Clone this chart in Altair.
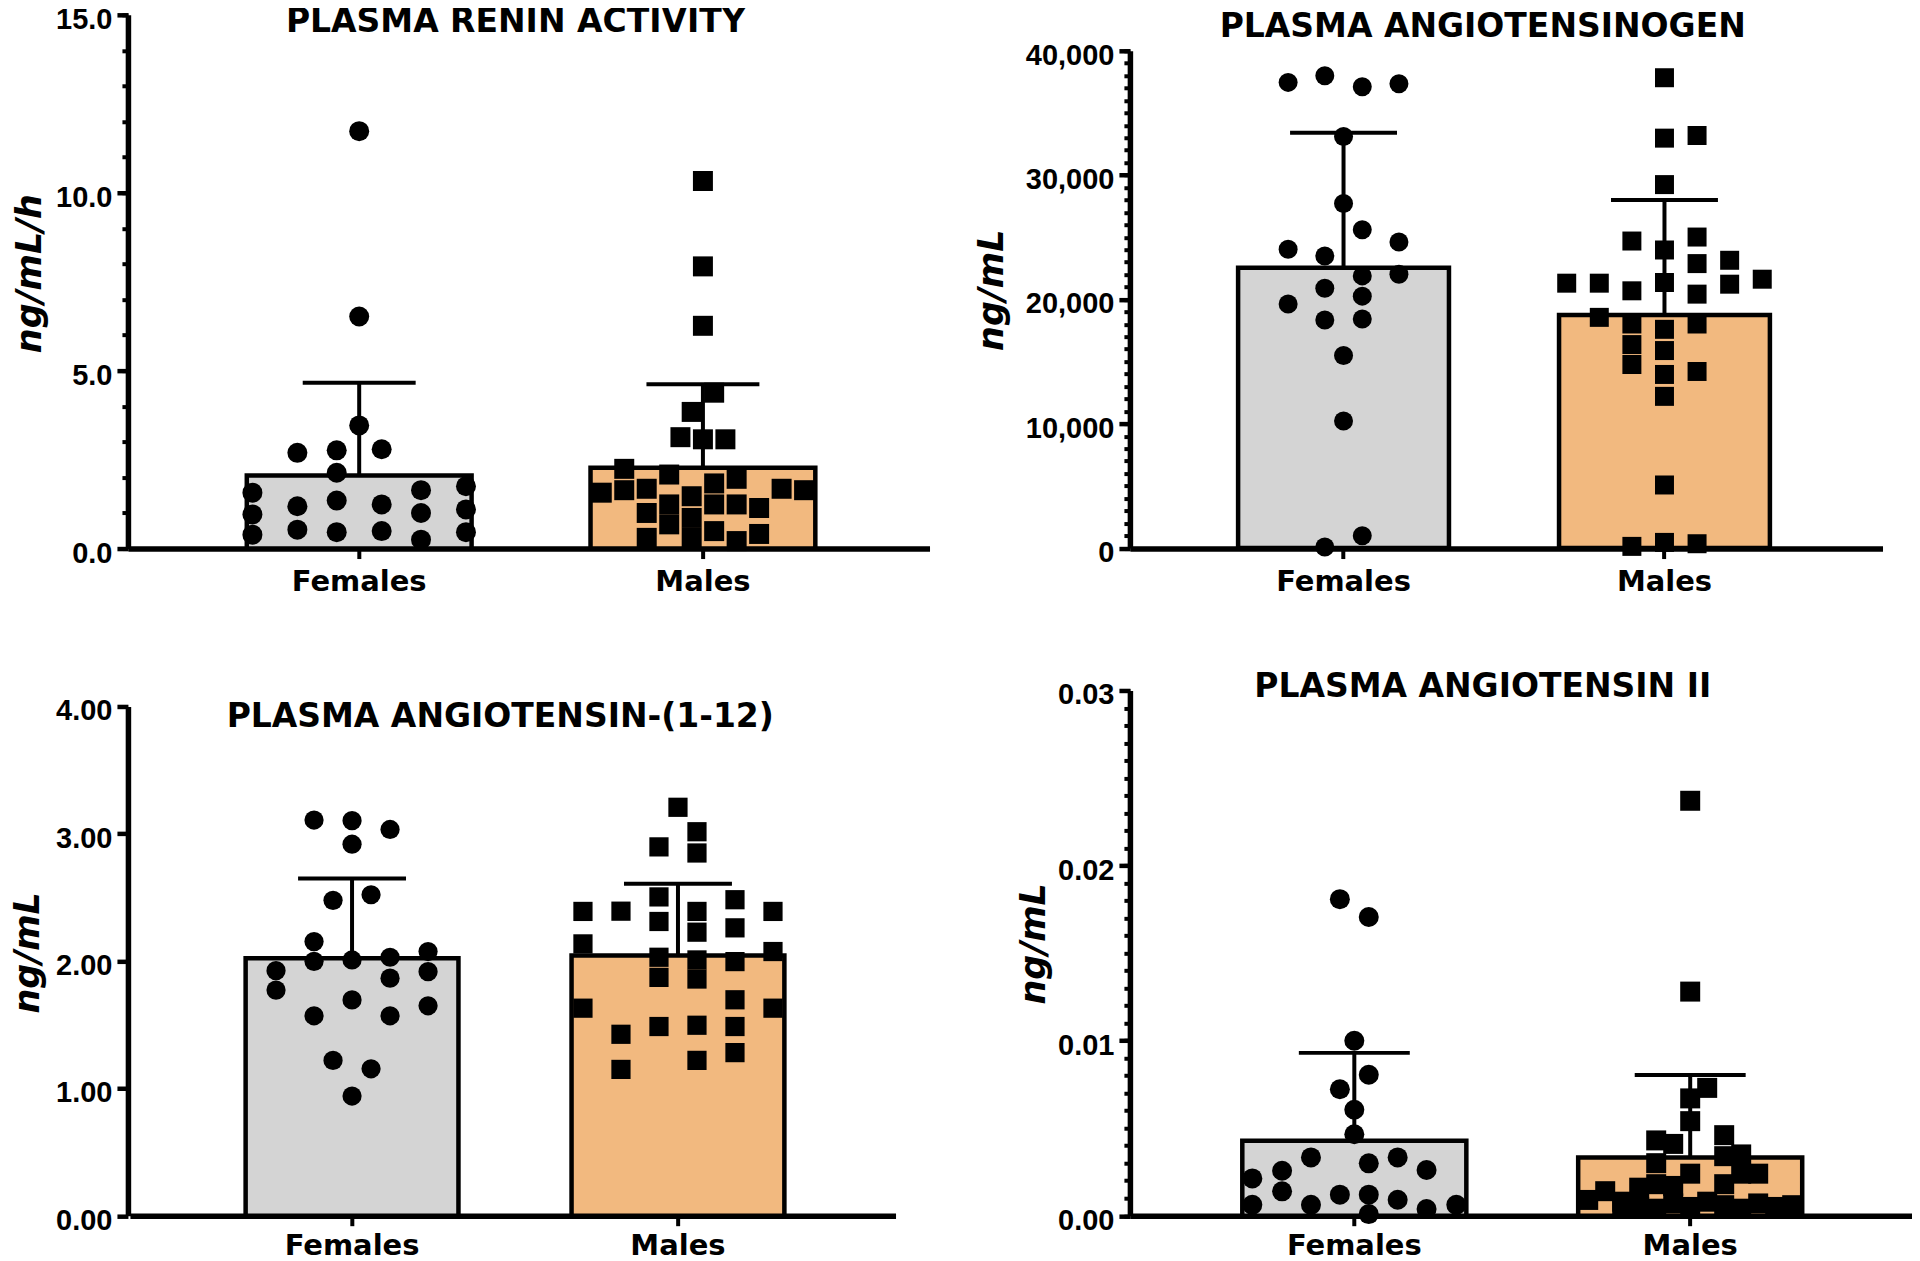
import altair as alt
import pandas as pd

GROUPS = ["Females", "Males"]
BAR_FILL = ["#d4d4d4", "#f2b97f"]
POINT_SHAPE = ["circle", "square"]

# ---------------- Panel 1: plasma renin activity (ng/mL/h) ----------------
pra_female = [11.73, 6.52, 3.46, 2.69, 2.76, 2.79, 2.13, 1.57, 0.96, 0.39, 1.19,
              0.53, 1.35, 0.46, 1.24, 0.49, 1.64, 1.00, 0.25, 1.75, 1.10, 0.46]
pra_female_slot = [0, 0, 0, -5.5, -2, 2, -2, -9.5, -9.5, -9.5, -5.5,
                   -5.5, -2, -2, 2, 2, 5.5, 5.5, 5.5, 9.5, 9.5, 9.5]
pra_male = [10.33, 7.93, 6.26, 4.38, 3.84, 3.13, 3.07, 3.07, 2.24, 2.08, 1.57,
            1.64, 1.68, 1.47, 1.83, 1.96, 1.68, 1.64, 1.00, 1.24, 0.68, 0.86,
            1.24, 1.24, 1.14, 0.30, 0.30, 0.49, 0.21, 0.41]
pra_male_slot = [0, 0, 0, 1, -1, -2, 0, 2, -7, -3, -9,
                 -7, -5, -1, 1, 3, 7, 9, -5, -3, -3, -1,
                 1, 3, 5, -5, -1, 1, 3, 5]
pra_mean = [2.05, 2.27]
pra_sd = [2.61, 2.35]
pra_major = [0, 5, 10, 15]

# ---------------- Panel 2: plasma angiotensinogen (ng/mL) ----------------
aog_female = [37460, 37994, 37113, 37353, 33108, 27715, 25605, 24030, 24617,
              23496, 21894, 22028, 20906, 19625, 20265, 18343, 18423, 15486,
              10226, 988, 80]
aog_female_slot = [-3.4, -1.15, 1.15, 3.4, 0, 0, 1.15, -3.4, 3.4,
                   -1.15, 1.15, 3.4, -1.15, -3.4, 1.15, -1.15, 1.15, 0,
                   0, 1.15, -1.15]
aog_male = [37834, 32975, 33188, 29237, 24698, 25018, 23977, 22882, 23149,
            21307, 21307, 20693, 21360, 20426, 21226, 21627, 18557, 18023,
            17595, 18023, 16367, 15887, 14765, 14204, 13964, 12202, 5073,
            134, 454, 347]
aog_male_slot = [0, 0, 2, 0, -2, 2, 0, 2, 4,
                 -6, -4, -2, 0, 2, 4, 6, -4, -2,
                 0, 2, -2, 0, -2, 2, 0, 0, 0,
                 -2, 0, 2]
aog_mean = [22550, 18750]
aog_sd = [10850, 9250]
aog_major = [0, 10000, 20000, 30000, 40000]

# ---------------- Panel 3: plasma angiotensin-(1-12) (ng/mL) ----------------
a12_female = [3.108, 3.103, 3.034, 2.918, 2.477, 2.521, 2.153, 1.998, 2.009,
              2.030, 2.075, 1.917, 1.925, 1.772, 1.866, 1.695, 1.570, 1.570,
              1.649, 1.220, 1.154, 0.940]
a12_female_slot = [-2, 0, 2, 0, -1, 1, -2, -2, 0,
                   2, 4, 4, -4, -4, 2, 0, -2, 2,
                   4, -1, 1, 0]
a12_male = [3.208, 3.016, 2.897, 2.849, 2.504, 2.390, 2.482, 2.390, 2.392,
            2.390, 2.311, 2.227, 2.261, 2.135, 2.075, 2.030, 2.009, 1.996,
            1.872, 1.859, 1.696, 1.630, 1.630, 1.425, 1.486, 1.496, 1.486,
            1.281, 1.220, 1.149]
a12_male_slot = [0, 1, -1, 1, -1, 1, 3, -5, -3,
                 5, -1, 1, 3, -5, 5, -1, 1, 3,
                 -1, 1, 3, -5, 5, -3, -1, 1, 3,
                 3, 1, -3]
a12_mean = [2.022, 2.043]
a12_sd = [0.626, 0.565]
a12_major = [0, 1, 2, 3, 4]

# ---------------- Panel 4: plasma angiotensin II (ng/mL) ----------------
ang2_female = [0.01808, 0.01706, 0.00999, 0.00805, 0.00722, 0.00605, 0.00465,
               0.00333, 0.00333, 0.00299, 0.00261, 0.00257, 0.00213, 0.00139,
               0.00120, 0.00120, 0.00091, 0.00062, 0.00062, 0.00038, 0.00062,
               0.00009]
ang2_female_slot = [-0.85, 0.85, 0, 0.85, -0.85, 0, 0,
                    -2.55, 2.55, 0.85, 4.25, -4.25, -6, -4.25,
                    -0.85, 0.85, 2.55, -6, -2.55, 4.25, 6,
                    0.85]
ang2_male = [0.0237, 0.0128, 0.0073, 0.0067, 0.0054, 0.0046, 0.0043, 0.0041,
             0.0035, 0.0034, 0.0030, 0.0024, 0.0024, 0.0024, 0.0018, 0.0017,
             0.0018, 0.0016, 0.0014, 0.0009, 0.0008, 0.0007, 0.0008, 0.0007,
             0.0006, 0.0005, 0.0004, 0.0005, 0.0004, 0.0005, 0.0006, 0.0004]
ang2_male_slot = [0, 0, 1, 0, 0, 2, -2, -1,
                  3, 2, -2, 0, 3, 4, -2, -1,
                  2, -3, -5, -6, -4, -1, 1, 4,
                  6, -3, -2, 0, 3, 5, 2, -4]
ang2_mean = [0.00428, 0.00333]
ang2_sd = [0.00502, 0.00470]
ang2_major = [0, 0.01, 0.02, 0.03]

ROW1_H = 534
ROW2_H = 525.5
COL1_W = 802
COL2_W = 782


def make_panel(title, ytitle, f_vals, f_slots, m_vals, m_slots, means, sds,
               majors, minor, fmt, width, height, xrange, yrange, band, slot_half,
               pt_size, cap_size, title_offset, title_dx, ytitle_x, ytitle_y,
               xlabel_pad):
    pts = pd.DataFrame({
        "group": ["Females"] * len(f_vals) + ["Males"] * len(m_vals),
        "value": f_vals + m_vals,
        "slot": f_slots + m_slots,
    })
    bars = pd.DataFrame({"group": GROUPS, "mean": means, "sd": sds})
    bars["upper"] = bars["mean"] + bars["sd"]
    ymax = majors[-1]

    yscale = alt.Scale(domain=[0, ymax], range=yrange, nice=False, zero=True)
    major_axis = alt.Axis(
        orient="left", values=majors, format=fmt,
        tickSize=11, tickWidth=4.5, tickColor="black",
        domainColor="black", domainWidth=5.5,
        labelFont="Liberation Sans", labelFontSize=29, labelFontWeight="bold",
        labelColor="black", labelPadding=5, labelOffset=4.5,
        labelFlush=False, labelOverlap=False,
        grid=False,
        title=ytitle, titleFont="DejaVu Sans", titleFontSize=35,
        titleFontWeight="bold", titleFontStyle="italic", titleColor="black",
        titleAngle=270, titleBaseline="middle", titleAlign="center",
        titleX=ytitle_x, titleY=ytitle_y,
    )
    if minor:
        n_minor = int(round(ymax / minor))
        minor_values = [round(i * minor, 6) for i in range(n_minor + 1)]
        minor_axis = alt.Axis(
            orient="left", values=minor_values, labels=False, domain=False,
            tickSize=6, tickWidth=4, tickColor="black", grid=False, title=None,
        )
    else:
        minor_axis = None

    pin, pout, align = band
    xenc = alt.X(
        "group:N", sort=GROUPS,
        scale=alt.Scale(domain=GROUPS, range=xrange, paddingInner=pin,
                        paddingOuter=pout, align=align),
        axis=alt.Axis(
            title=None, labelAngle=0, labelFont="DejaVu Sans", labelFontSize=29,
            labelFontWeight="bold", labelColor="black", labelPadding=xlabel_pad,
            tickSize=10, tickWidth=4, tickColor="black",
            domainColor="black", domainWidth=5.5, bandPosition=0.5, grid=False,
        ),
    )

    bar = alt.Chart(bars).mark_bar(stroke="black", strokeWidth=4.5).encode(
        x=xenc,
        y=alt.Y("mean:Q", scale=yscale, axis=major_axis),
        color=alt.Color("group:N", scale=alt.Scale(domain=GROUPS, range=BAR_FILL), legend=None),
    )
    rule = alt.Chart(bars).mark_rule(color="black", strokeWidth=4).encode(
        x=xenc, y=alt.Y("mean:Q", scale=yscale, axis=minor_axis), y2="upper:Q",
    )
    cap = alt.Chart(bars).mark_tick(color="black", thickness=4, size=cap_size,
                                    orient="horizontal", opacity=1).encode(
        x=xenc, y=alt.Y("upper:Q", scale=yscale, axis=None),
    )
    dots = alt.Chart(pts).mark_point(filled=True, color="black", opacity=1,
                                     size=pt_size, strokeWidth=0).encode(
        x=xenc,
        xOffset=alt.XOffset("slot:Q", scale=alt.Scale(domain=[-slot_half, slot_half])),
        y=alt.Y("value:Q", scale=yscale, axis=None),
        shape=alt.Shape("group:N", scale=alt.Scale(domain=GROUPS, range=POINT_SHAPE), legend=None),
    )
    return alt.layer(bar, rule, cap, dots).resolve_scale(
        xOffset="independent"
    ).resolve_axis(y="independent").properties(
        width=width, height=height,
        title=alt.TitleParams(
            text=title, font="DejaVu Sans", fontSize=33, fontWeight="bold",
            color="black", anchor="middle", frame="group",
            offset=title_offset, dx=title_dx,
        ),
    )


p1 = make_panel("PLASMA RENIN ACTIVITY", "ng/mL/h", pra_female, pra_female_slot,
                pra_male, pra_male_slot, pra_mean, pra_sd,
                pra_major, 1, ".1f", COL1_W, ROW1_H, [0, 802], [ROW1_H, 0],
                (0.346, 0.339, 0.51), 10, 400, 113, -33.5, -13, -98, 258.5, 9)
p2 = make_panel("PLASMA ANGIOTENSINOGEN", "ng/mL", aog_female, aog_female_slot,
                aog_male, aog_male_slot, aog_mean, aog_sd,
                aog_major, 1000, ",.0f", COL2_W, ROW1_H, [0, 753], [533.5, 36],
                (0.343, 0.344, 0.49), 6.47, 361, 107, -29, -38, -138.5, 275, 9)
p3 = make_panel("PLASMA ANGIOTENSIN-(1-12)", "ng/mL", a12_female, a12_female_slot,
                a12_male, a12_male_slot, a12_mean, a12_sd,
                a12_major, None, ".2f", COL1_W, ROW2_H, [2, 768], [ROW2_H, 16],
                (0.347, 0.348, 0.51), 5.6, 370, 108, -43.5, -28.5, -100, 262, 6)
p4 = make_panel("PLASMA ANGIOTENSIN II", "ng/mL", ang2_female, ang2_female_slot,
                ang2_male, ang2_male_slot, ang2_mean, ang2_sd,
                ang2_major, 0.001, ".2f", COL2_W, ROW2_H, [0, 782], [ROW2_H, 0],
                (0.333, 0.33, 0.507), 6.59, 400, 111, -23.5, -38, -96.5, 253, 6)

chart = alt.concat(
    p1, p2, p3, p4, columns=2, bounds="flush",
    spacing={"row": 142, "column": 200.5},
).properties(
    padding={"left": 3, "top": -3.5, "right": 0, "bottom": 0},
    background="white",
).configure_view(stroke=None)

chart.save("out.html", embed_options={"renderer": "svg", "actions": False})
